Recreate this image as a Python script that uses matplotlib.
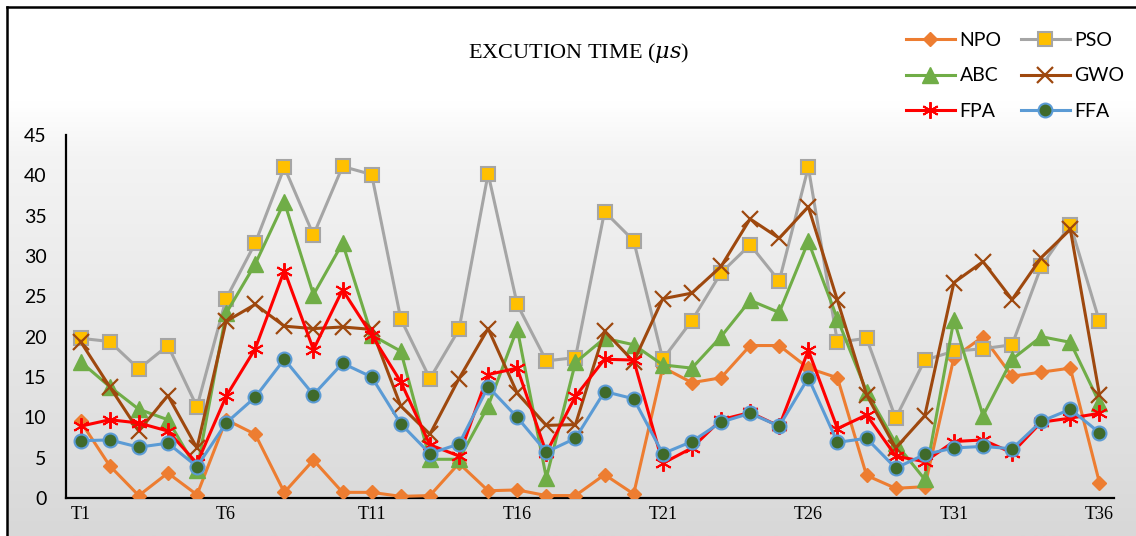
#!/usr/bin/env python3
"""Execution time per task (T1..T36) for six optimisers, Excel-style line chart."""
import matplotlib
matplotlib.use("Agg")
import matplotlib.pyplot as plt
import numpy as np
from matplotlib.colors import LinearSegmentedColormap

tasks = [f"T{i}" for i in range(1, 37)]
tick_labels = ["T1", "T6", "T11", "T16", "T21", "T26", "T31", "T36"]

npo = [9.5, 4.0, 0.3, 3.1, 0.4, 9.7, 7.9, 0.7, 4.7, 0.7, 0.7, 0.2,
       0.3, 4.3, 0.9, 1.0, 0.3, 0.3, 2.9, 0.5, 16.2, 14.3, 14.9, 18.9,
       18.9, 16.1, 14.9, 2.8, 1.2, 1.4, 17.4, 20.0, 15.1, 15.6, 16.1, 1.9]
pso = [19.8, 19.4, 16.0, 18.9, 11.3, 24.7, 31.6, 41.0, 32.6, 41.1, 40.1, 22.2,
       14.8, 20.9, 40.2, 24.0, 17.0, 17.4, 35.5, 31.9, 17.2, 22.0, 27.9, 31.4,
       26.9, 41.0, 19.3, 19.8, 9.9, 17.1, 18.2, 18.5, 19.0, 28.7, 33.9, 21.9]
abc = [16.9, 13.8, 11.0, 9.7, 3.5, 22.9, 29.0, 36.7, 25.2, 31.6, 20.2, 18.2,
       4.8, 4.8, 11.4, 21.0, 2.5, 16.8, 19.8, 19.0, 16.5, 16.1, 20.0, 24.5,
       23.0, 31.8, 22.2, 13.2, 6.8, 2.3, 22.1, 10.2, 17.2, 20.0, 19.3, 11.8]
gwo = [19.4, 13.8, 8.3, 12.7, 6.2, 21.9, 24.0, 21.3, 21.0, 21.2, 20.9, 11.4,
       7.9, 14.8, 21.0, 13.0, 9.0, 9.1, 20.7, 16.9, 24.7, 25.4, 28.7, 34.6,
       32.2, 36.1, 24.5, 12.8, 6.2, 10.2, 26.7, 29.3, 24.6, 29.8, 33.3, 12.8]
fpa = [8.9, 9.7, 9.3, 8.3, 4.3, 12.6, 18.5, 28.2, 18.4, 25.8, 20.2, 14.4,
       6.6, 5.2, 15.3, 16.1, 5.6, 12.6, 17.2, 17.1, 4.3, 6.2, 9.7, 10.6,
       8.9, 18.3, 8.6, 10.3, 5.2, 4.5, 7.0, 7.2, 5.6, 9.4, 9.9, 10.5]
ffa = [7.1, 7.2, 6.3, 6.8, 3.9, 9.3, 12.5, 17.2, 12.8, 16.7, 15.0, 9.2,
       5.5, 6.7, 13.8, 10.0, 5.7, 7.4, 13.2, 12.3, 5.5, 7.0, 9.4, 10.5,
       8.9, 14.9, 6.9, 7.4, 3.7, 5.4, 6.2, 6.4, 6.1, 9.5, 11.0, 8.1]

W, H = 1136, 536
fig = plt.figure(figsize=(W / 100, H / 100), dpi=100)
fig.patch.set_facecolor("white")

# background: white top fading to light grey, framed on the left/top
bg = fig.add_axes([7 / W, 0, 1 - 7 / W, 1 - 7 / H], zorder=-10)
grad = np.linspace(0, 1, 256)[:, None]
cmap = LinearSegmentedColormap.from_list(
    "bg", [(0, "#d8d8d8"), (0.72, "#f4f4f4"), (0.82, "#ffffff"), (1, "#ffffff")])
bg.imshow(grad, aspect="auto", cmap=cmap, origin="lower", extent=[0, 1, 0, 1])
bg.set_xlim(0, 1)
bg.set_ylim(0, 1)
for s in bg.spines.values():
    s.set_visible(False)
for side in ("left", "top"):
    bg.spines[side].set_visible(True)
    bg.spines[side].set_linewidth(1.8)
bg.set_xticks([])
bg.set_yticks([])

ax = fig.add_axes([66 / W, (H - 498) / H, (1114 - 66) / W, (498 - 135) / H])
ax.patch.set_visible(False)

x = np.arange(1, 37)
lw = 2.2
ax.plot(x, npo, color="#ED7D31", lw=lw, marker="D", ms=7.5, mfc="#ED7D31",
        mec="#ED7D31", label="NPO", zorder=3)
ax.plot(x, pso, color="#A5A5A5", lw=lw, marker="s", ms=10, mfc="#FFC000",
        mec="#A5A5A5", mew=1.5, label="PSO", zorder=4)
ax.plot(x, abc, color="#70AD47", lw=lw, marker="^", ms=11, mfc="#70AD47",
        mec="#70AD47", label="ABC", zorder=5)
ax.plot(x, gwo, color="#9E480E", lw=lw, marker="x", ms=11, mew=1.6,
        mec="#9E480E", label="GWO", zorder=6)
ax.plot(x, fpa, color="#FF0000", lw=lw, marker=(6, 2, 0), ms=12, mew=1.4,
        mec="#FF0000", label="FPA", zorder=7)
ax.plot(x, ffa, color="#5B9BD5", lw=lw, marker="o", ms=10, mfc="#3F6A2B",
        mec="#5B9BD5", mew=1.5, label="FFA", zorder=8)

ax.set_xlim(0.5, 36.5)
ax.set_ylim(0, 45)
ax.set_yticks(range(0, 46, 5))
ax.set_xticks([tasks.index(t) + 1 for t in tick_labels])
ax.set_xticklabels(tick_labels, fontfamily="Liberation Serif", fontsize=13)
ax.tick_params(axis="y", labelsize=14, length=0, pad=14)
ax.tick_params(axis="x", length=0, pad=6)
for lbl in ax.get_yticklabels():
    lbl.set_fontfamily("Lato")
for side in ("top", "right"):
    ax.spines[side].set_visible(False)
for side in ("left", "bottom"):
    ax.spines[side].set_linewidth(1.6)
    ax.spines[side].set_color("black")

fig.text(578 / W, 1 - 53 / H, r"EXCUTION TIME ($\mu s$)", ha="center",
         va="center", fontsize=16, fontfamily="Liberation Serif",
         math_fontfamily="dejavuserif")

# legend rows read NPO/PSO, ABC/GWO, FPA/FFA (matplotlib fills by column)
handles, labels = ax.get_legend_handles_labels()
order = [0, 2, 4, 1, 3, 5]
ax.legend([handles[i] for i in order], [labels[i] for i in order], ncol=2,
          loc="upper left", bbox_to_anchor=(906 / W, 1 - 32 / H),
          bbox_transform=fig.transFigure, borderpad=0, borderaxespad=0,
          frameon=False, prop={"family": "Lato", "size": 14},
          handlelength=2.5, columnspacing=1.0, labelspacing=0.95,
          handletextpad=0.25)

fig.savefig("out.png", dpi=100)
